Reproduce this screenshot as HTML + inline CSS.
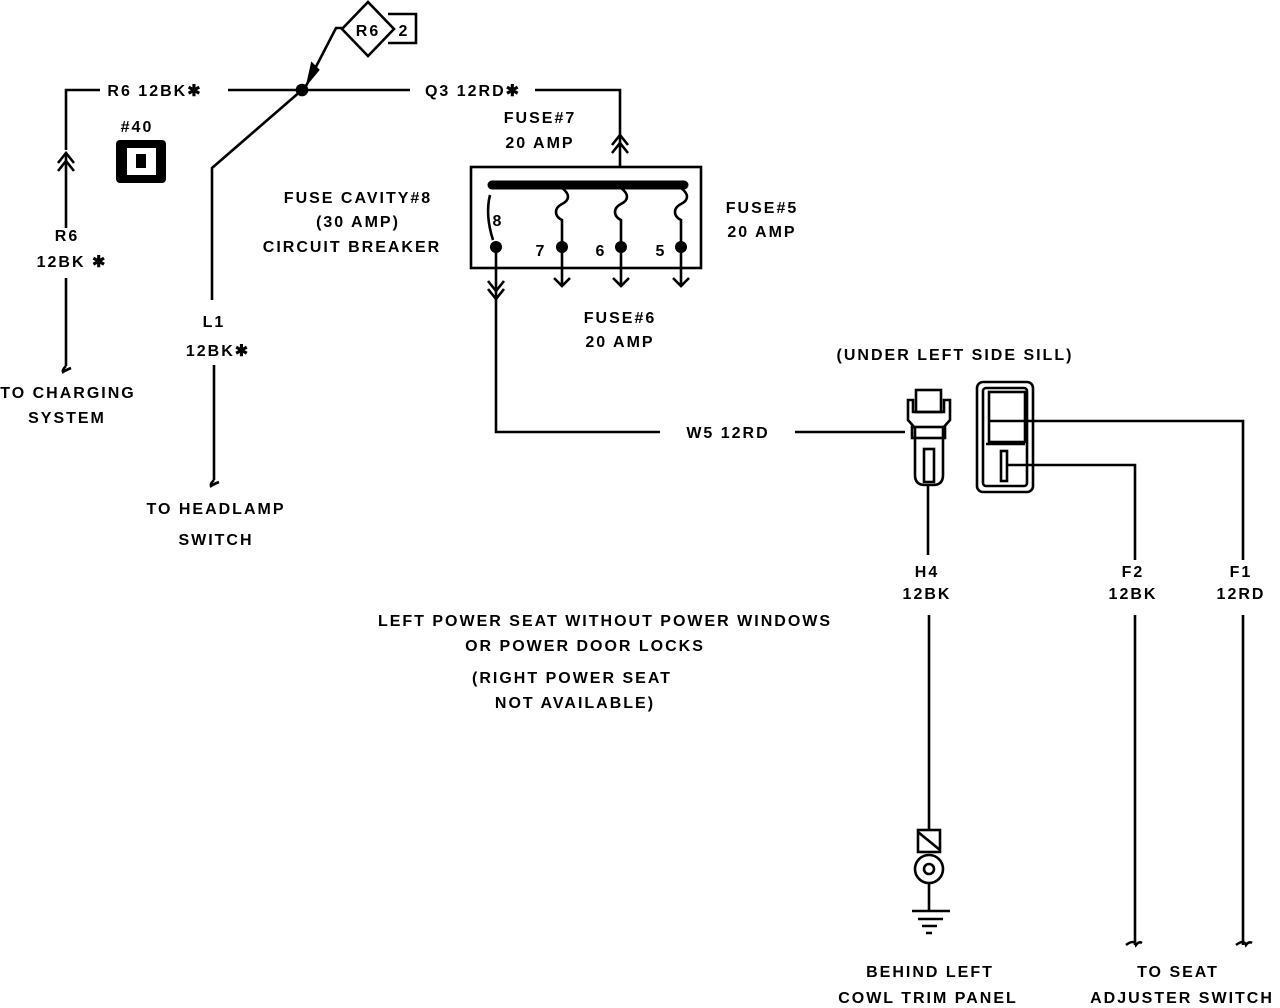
<!DOCTYPE html>
<html><head><style>
html,body{margin:0;padding:0;background:#fff;}
svg{display:block}
text{font-family:"Liberation Sans",sans-serif;font-weight:bold;font-size:16px;letter-spacing:2px;text-anchor:middle;fill:#000}
</style></head><body>
<svg width="1280" height="1008" viewBox="0 0 1280 1008" xmlns="http://www.w3.org/2000/svg">
<g stroke="#000" stroke-width="2.6" fill="none">
<path d="M66 150 V90 H100"/>
<path d="M228 90 H410"/>
<path d="M535 90 H620 V168"/>
<path d="M612 145 L620 135 L628 145 M612 153 L620 143 L628 153"/>
<path d="M58 163 L66 153 L74 163 M58 171 L66 161 L74 171"/>
<path d="M66 155 V228 M66 278 V366"/>
<path d="M66 366 q-4 4 -3 6 q3 -2 8 -4"/>
<path d="M302 90 L212 168 V300 M214 365 V480"/>
<path d="M214 480 q-4 4 -3 6 q3 -2 8 -4"/>
<circle cx="302" cy="90" r="5" fill="#000"/>
<path d="M342 28 L336 28 L306 86"/>
<path d="M312 64 L308 82 L318 70 Z" fill="#000"/>
<path d="M368 2 L394 29 L368 56 L342 29 Z" fill="#fff"/>
<path d="M388 14 H416 V43 H388"/>
<rect x="471" y="167" width="230" height="101"/>
<line x1="492" y1="185" x2="684" y2="185" stroke-width="9" stroke-linecap="round"/>
<path d="M490 195 q-5 20 3 45"/>
<path d="M562 188 c8 6 8 12 0 16 c-8 4 -8 12 0 16 v25"/>
<path d="M621 188 c8 6 8 12 0 16 c-8 4 -8 12 0 16 v25"/>
<path d="M681 188 c8 6 8 12 0 16 c-8 4 -8 12 0 16 v25"/>
<path d="M496 247 V432 H660 M795 432 H905"/>
<path d="M488 281 L496 291 L504 281 M488 289 L496 299 L504 289"/>
<path d="M562 247 V286 M554 278 L562 286 L570 278"/>
<path d="M621 247 V286 M613 278 L621 286 L629 278"/>
<path d="M681 247 V286 M673 278 L681 286 L689 278"/>
<path d="M908 400 V420 L915 428 V475 Q915 485 925 485 H933 Q943 485 943 475 V428 L950 420 V400 H944 V412 H913 V400 Z"/>
<rect x="916" y="390" width="25" height="22"/>
<rect x="912" y="427" width="33" height="11"/>
<rect x="924" y="449" width="10" height="33"/>
<rect x="977" y="382" width="56" height="110" rx="6"/>
<rect x="983" y="388" width="44" height="98" rx="3"/>
<path d="M986 444 H1025"/>
<rect x="989" y="392" width="36" height="50"/>
<rect x="1001" y="451" width="6" height="30"/>
<path d="M990 421 H1243 V560 M1243 615 V945"/>
<path d="M1006 465 H1135 V560 M1135 615 V945"/>
<path d="M1126 945 q8 -6 10 0 q3 -4 6 -2 M1236 945 q8 -6 10 0 q3 -4 6 -2"/>
<path d="M928 485 V555 M929 615 V830"/>
<rect x="918" y="830" width="22" height="22"/>
<path d="M918 832 L940 850"/>
<circle cx="929" cy="869" r="14"/>
<circle cx="929" cy="869" r="5"/>
<path d="M929 883 V911 M912 911 H950 M918 919 H943 M922 926 H937 M926 933 H932"/>
</g>
<rect x="116" y="140" width="50" height="43" rx="4" fill="#000"/>
<rect x="127" y="148" width="29" height="27" fill="#fff"/>
<rect x="136" y="154" width="10" height="14" fill="#000"/>
<circle cx="496" cy="247" r="6" fill="#000"/>
<circle cx="562" cy="247" r="6" fill="#000"/>
<circle cx="621" cy="247" r="6" fill="#000"/>
<circle cx="681" cy="247" r="6" fill="#000"/>
<text x="368" y="36">R6</text>
<text x="404" y="36">2</text>
<text x="155" y="96">R6 12BK✱</text>
<text x="473" y="96">Q3 12RD✱</text>
<text x="137" y="132">#40</text>
<text x="540" y="123">FUSE#7</text>
<text x="540" y="148">20 AMP</text>
<text x="358" y="203">FUSE CAVITY#8</text>
<text x="358" y="227">(30 AMP)</text>
<text x="352" y="252">CIRCUIT BREAKER</text>
<text x="498" y="226">8</text>
<text x="541" y="256">7</text>
<text x="601" y="256">6</text>
<text x="661" y="256">5</text>
<text x="762" y="213">FUSE#5</text>
<text x="762" y="237">20 AMP</text>
<text x="620" y="323">FUSE#6</text>
<text x="620" y="347">20 AMP</text>
<text x="67" y="241">R6</text>
<text x="72" y="267">12BK ✱</text>
<text x="214" y="327">L1</text>
<text x="218" y="356">12BK✱</text>
<text x="68" y="398">TO CHARGING</text>
<text x="67" y="423">SYSTEM</text>
<text x="216" y="514">TO HEADLAMP</text>
<text x="216" y="545">SWITCH</text>
<text x="728" y="438">W5 12RD</text>
<text x="955" y="360">(UNDER LEFT SIDE SILL)</text>
<text x="927" y="577">H4</text>
<text x="927" y="599">12BK</text>
<text x="1133" y="577">F2</text>
<text x="1133" y="599">12BK</text>
<text x="1241" y="577">F1</text>
<text x="1241" y="599">12RD</text>
<text x="605" y="626">LEFT POWER SEAT WITHOUT POWER WINDOWS</text>
<text x="585" y="651">OR POWER DOOR LOCKS</text>
<text x="572" y="683">(RIGHT POWER SEAT</text>
<text x="575" y="708">NOT AVAILABLE)</text>
<text x="930" y="977">BEHIND LEFT</text>
<text x="928" y="1003">COWL TRIM PANEL</text>
<text x="1178" y="977">TO SEAT</text>
<text x="1182" y="1003">ADJUSTER SWITCH</text>
</svg>
</body></html>
